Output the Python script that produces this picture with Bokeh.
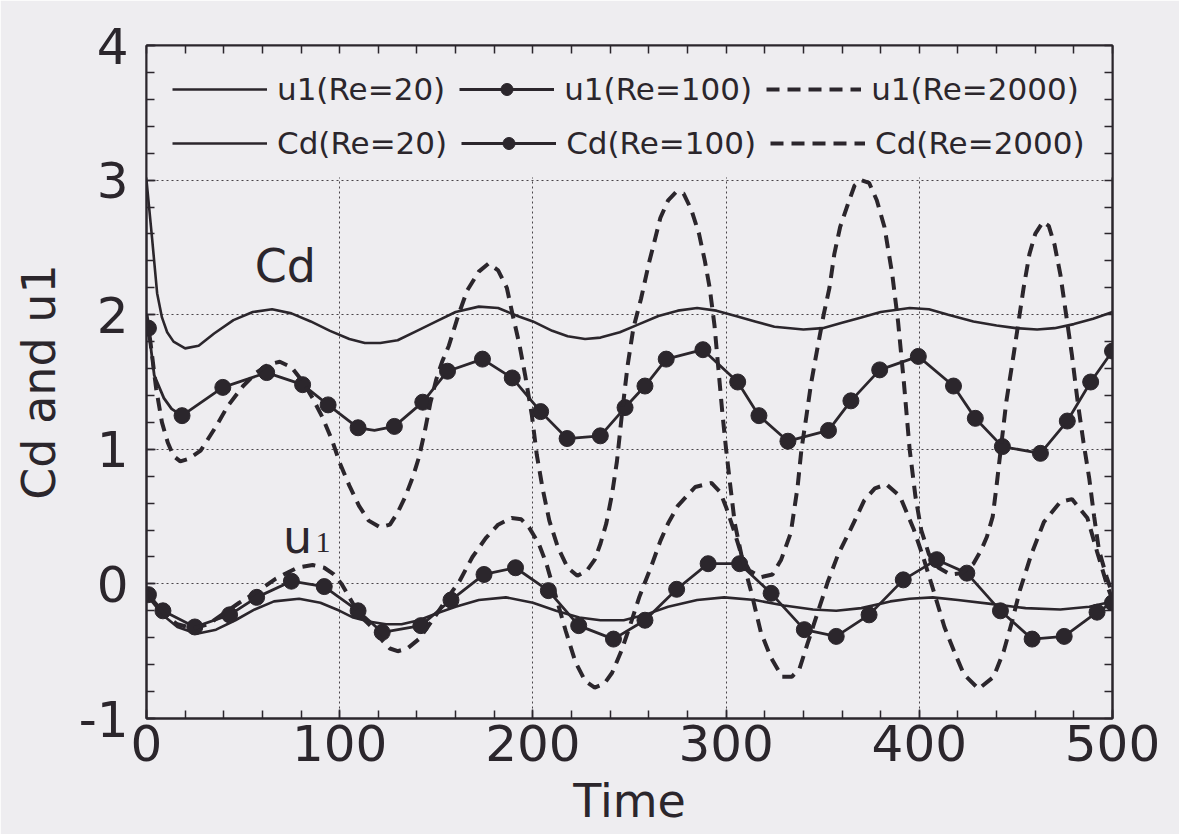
from bokeh.plotting import figure
from bokeh.models import Range1d, FixedTicker, LinearAxis, Legend, LegendItem, BoxAnnotation, Label
from bokeh.embed import file_html
from bokeh.resources import INLINE

# ---------------- data ----------------
x_ticks = [0, 100, 200, 300, 400, 500]
y_ticks = [-1, 0, 1, 2, 3, 4]
y_tick_text = {-1: "-1"}

# Cd, Re=20 (solid)
cd20_t = [0, 3, 5.5, 8, 10.7, 14, 20, 27, 35, 45, 55, 65, 75, 85, 95, 105, 113, 121, 130, 140,
          150, 160, 172, 182, 192, 200, 210, 218, 227, 235, 245, 255, 265, 275, 285, 295, 305, 315,
          325, 340, 350, 360, 370, 380, 395, 405, 415, 428, 440, 450, 461, 470, 480, 490, 500]
cd20_v = [3.0, 2.55, 2.16, 1.98, 1.87, 1.8, 1.75, 1.77, 1.86, 1.96, 2.02, 2.04, 2.01, 1.95, 1.88,
          1.82, 1.79, 1.79, 1.81, 1.88, 1.95, 2.02, 2.06, 2.05, 1.99, 1.95, 1.88, 1.84, 1.82, 1.83,
          1.87, 1.93, 1.99, 2.03, 2.05, 2.03, 1.99, 1.95, 1.91, 1.89, 1.9, 1.94, 1.98, 2.02, 2.05,
          2.04, 2.0, 1.95, 1.92, 1.9, 1.89, 1.9, 1.93, 1.97, 2.02]

# Cd, Re=100 (solid with markers): marker points and extra line points
cd100_mt = [1, 18.4, 39.5, 62.2, 80.8, 94, 109.5, 128.3, 143, 155.8, 173.9, 189.3, 204, 217.7,
            234.9, 247.7, 258, 269, 288, 306, 317, 332, 353, 364.6, 379.5, 399.5, 417.7, 429, 443,
            462.7, 476.6, 488.7, 500]
cd100_mv = [1.9, 1.25, 1.46, 1.57, 1.48, 1.33, 1.16, 1.17, 1.35, 1.58, 1.67, 1.53, 1.28, 1.08,
            1.1, 1.31, 1.47, 1.67, 1.74, 1.5, 1.25, 1.06, 1.14, 1.36, 1.59, 1.69, 1.47, 1.23, 1.02,
            0.97, 1.21, 1.5, 1.73]
cd100_xt = [0, 4, 9, 13, 118]
cd100_xv = [1.95, 1.55, 1.38, 1.3, 1.14]

# Cd, Re=2000 (dashed)
cd2000_t = [0, 2, 5, 8, 11, 14, 17.5, 22, 28, 36, 42, 50, 57, 63, 69, 75, 81, 86, 91, 96, 100, 105,
            110, 115, 121, 126, 130, 134, 138, 141, 144, 147, 150, 153, 156.5, 161.5, 166, 172, 177,
            182, 186.5, 189.5, 193, 196, 199.5, 202, 205, 208.5, 213, 218, 223, 228, 232, 235, 238,
            241, 243.5, 246, 249, 252, 256, 260, 263, 266, 270, 274, 278, 282, 286, 289, 291.5, 294,
            296, 298, 300, 302, 304.5, 308, 312, 318, 324, 328.5, 333.5, 337, 339, 341.5, 344, 347,
            350.5, 353.5, 356, 359, 363, 366.5, 370, 374, 378, 382, 386, 389, 392, 395, 398, 401,
            405, 410, 416, 422, 428, 432, 435, 438, 440, 442, 445, 449, 451.5, 454, 457, 460, 464,
            467, 470, 473, 476, 479, 482, 485, 488, 490.5, 493, 497, 500]
cd2000_v = [2.0, 1.8, 1.45, 1.2, 1.05, 0.95, 0.91, 0.93, 0.99, 1.17, 1.32, 1.47, 1.57, 1.63, 1.65,
            1.61, 1.5, 1.38, 1.24, 1.07, 0.9, 0.73, 0.58, 0.47, 0.42, 0.44, 0.53, 0.65, 0.8, 0.94,
            1.13, 1.35, 1.52, 1.65, 1.77, 2.0, 2.18, 2.32, 2.38, 2.33, 2.2, 2.0, 1.78, 1.55, 1.25,
            0.96, 0.71, 0.47, 0.27, 0.12, 0.06, 0.1, 0.18, 0.3, 0.45, 0.67, 0.91, 1.25, 1.62, 1.9,
            2.12, 2.38, 2.55, 2.72, 2.85, 2.91, 2.9, 2.78, 2.6, 2.4, 2.2, 1.92, 1.6, 1.28, 1.0,
            0.75, 0.45, 0.21, 0.1, 0.05, 0.07, 0.18, 0.38, 0.72, 1.0, 1.24, 1.49, 1.73, 2.0, 2.2,
            2.45, 2.65, 2.82, 2.96, 3.0, 2.98, 2.85, 2.65, 2.3, 1.95, 1.5, 1.0, 0.65, 0.4, 0.22,
            0.12, 0.07, 0.08, 0.15, 0.25, 0.35, 0.5, 0.73, 0.98, 1.35, 1.72, 1.96, 2.2, 2.45, 2.6,
            2.69, 2.66, 2.52, 2.3, 2.0, 1.7, 1.35, 1.05, 0.78, 0.5, 0.25, 0.05, -0.08]

# u1, Re=20 (solid)
u20_t = [0, 5, 10, 16, 26, 36, 46, 56, 66, 79, 90, 100, 107, 115, 124, 132, 141, 150, 160, 172,
         186, 200, 212, 224, 235, 247, 258, 270, 285, 299, 315, 330, 345, 357, 370, 385, 395, 407,
         420, 438, 455, 473, 488, 500]
u20_v = [-0.08, -0.17, -0.25, -0.32, -0.37, -0.34, -0.27, -0.19, -0.13, -0.11, -0.14, -0.2, -0.25,
         -0.28, -0.3, -0.3, -0.27, -0.22, -0.17, -0.12, -0.1, -0.14, -0.2, -0.25, -0.27, -0.27,
         -0.23, -0.17, -0.12, -0.1, -0.12, -0.16, -0.19, -0.2, -0.18, -0.13, -0.11, -0.1, -0.12,
         -0.15, -0.18, -0.19, -0.17, -0.13]

# u1, Re=100 (solid with markers)
u100_mt = [1, 8.5, 25, 43, 57, 75, 92, 109.5, 122, 142, 157.6, 174.7, 191, 208, 223.7, 241.7, 258,
           274.4, 290.7, 307, 323.3, 340.5, 357, 374, 391.7, 409, 424.6, 442, 458.4, 475, 492, 500]
u100_mv = [-0.08, -0.2, -0.32, -0.23, -0.1, 0.02, -0.02, -0.2, -0.36, -0.31, -0.12, 0.07, 0.12,
           -0.05, -0.31, -0.41, -0.27, -0.04, 0.15, 0.15, -0.07, -0.34, -0.39, -0.23, 0.03, 0.18,
           0.08, -0.2, -0.41, -0.39, -0.21, -0.14]
u100_xt = [0]
u100_xv = [-0.06]

# u1, Re=2000 (dashed)
u2000_t = [0, 5, 10, 16, 24, 32, 40, 48, 57, 67, 78, 86, 92, 97, 101, 105, 109, 113, 118, 122, 126,
           130, 135, 141, 148, 155, 162, 168.7, 175.6, 182, 189, 194, 198, 203, 207, 211.6, 217,
           222, 227, 232, 237, 241, 246, 250.5, 255, 261.5, 266, 270, 275, 284, 292.4, 297, 300,
           304, 307, 313, 318, 323.3, 329, 334, 338, 342, 347, 352.5, 358, 364.6, 371.5, 377, 383,
           390, 397, 402, 408, 413, 418, 423, 430.7, 438.5, 443.7, 448, 452, 458, 464.5, 473, 479,
           487, 492, 497, 500]
u2000_v = [-0.05, -0.15, -0.24, -0.3, -0.33, -0.3, -0.22, -0.14, -0.06, 0.04, 0.12, 0.14, 0.12,
           0.07, 0.0, -0.1, -0.2, -0.27, -0.34, -0.42, -0.48, -0.5, -0.48, -0.41, -0.27, -0.12,
           0.02, 0.2, 0.34, 0.44, 0.49, 0.48, 0.42, 0.3, 0.15, -0.08, -0.35, -0.58, -0.72, -0.77,
           -0.74, -0.66, -0.49, -0.3, -0.1, 0.14, 0.32, 0.45, 0.58, 0.72, 0.75, 0.68, 0.57, 0.4,
           0.26, -0.06, -0.36, -0.55, -0.69, -0.69, -0.63, -0.45, -0.23, 0.01, 0.22, 0.41, 0.62,
           0.71, 0.74, 0.65, 0.41, 0.2, -0.08, -0.32, -0.5, -0.67, -0.78, -0.69, -0.5, -0.28,
           -0.05, 0.22, 0.46, 0.61, 0.63, 0.49, 0.24, 0.0, -0.12]

legend_u = ["u1(Re=20)", "u1(Re=100)", "u1(Re=2000)"]
legend_cd = ["Cd(Re=20)", "Cd(Re=100)", "Cd(Re=2000)"]
x_title = "Time"
y_title = "Cd and u1"

# ---------------- style ----------------
BG = "#eeedf0"
INK = "#2b262c"
FONT = "DejaVu Sans"


def merged(t1, v1, t2, v2):
    pts = sorted(zip(list(t1) + list(t2), list(v1) + list(v2)))
    return [a for a, _ in pts], [b for _, b in pts]


p = figure(width=1179, height=834, output_backend="svg", toolbar_location=None,
           x_range=Range1d(0, 500), y_range=Range1d(-1, 4),
           min_border_left=146, min_border_right=67, min_border_top=45, min_border_bottom=116,
           background_fill_color=BG, border_fill_color=BG,
           outline_line_color=INK, outline_line_width=2)

x_minor = [20 * i for i in range(26)]
y_minor = [round(-1 + 0.2 * i, 1) for i in range(26)]

for ax in p.xaxis:
    ax.ticker = FixedTicker(ticks=x_ticks, minor_ticks=x_minor)
for ax in p.yaxis:
    ax.ticker = FixedTicker(ticks=y_ticks, minor_ticks=y_minor)
    ax.major_label_overrides = y_tick_text


def style_ticks(ax):
    ax.axis_line_color = INK
    ax.axis_line_width = 2
    ax.major_tick_in = 9
    ax.major_tick_out = 0
    ax.minor_tick_in = 8
    ax.minor_tick_out = 0
    ax.major_tick_line_color = INK
    ax.minor_tick_line_color = INK
    ax.major_tick_line_width = 1.5
    ax.minor_tick_line_width = 1.5


for ax in list(p.xaxis) + list(p.yaxis):
    style_ticks(ax)
    ax.major_label_text_font = FONT
    ax.major_label_text_font_size = "50px"
    ax.major_label_text_color = INK
    ax.axis_label_text_font = FONT
    ax.axis_label_text_font_style = "normal"
    ax.axis_label_text_color = INK

p.xaxis.axis_label = x_title
p.xaxis.axis_label_text_font_size = "46px"
p.xaxis.major_label_standoff = 6
p.xaxis.axis_label_standoff = 10
p.yaxis.axis_label = y_title
p.yaxis.axis_label_text_font_size = "46px"
p.yaxis.major_label_standoff = 18
p.yaxis.axis_label_standoff = 10

# frame ticks on the top and right edges (tick marks only, no labels)
top = LinearAxis(ticker=FixedTicker(ticks=[], minor_ticks=x_minor))
right = LinearAxis(ticker=FixedTicker(ticks=[], minor_ticks=y_minor))
for ax in (top, right):
    style_ticks(ax)
p.add_layout(top, "above")
p.add_layout(right, "right")

p.xgrid.ticker = FixedTicker(ticks=[100, 200, 300, 400])
p.ygrid.ticker = FixedTicker(ticks=[0, 1, 2, 3])
for g in (p.xgrid, p.ygrid):
    g.grid_line_color = INK
    g.grid_line_width = 1
    g.grid_line_dash = "2 3"
    g.grid_line_alpha = 0.85

# legend band covers the grid above y=3
band = BoxAnnotation(bottom=3.02, top=4, fill_color=BG, fill_alpha=1.0, line_alpha=0,
                     level="underlay")
p.add_layout(band)

SOLID_W = 2.6
LINE100_W = 2.8
DASH = "13 8"
DASH_W = 4
MS = 16

r_u20 = p.line(u20_t, u20_v, line_color=INK, line_width=SOLID_W)
ut, uv = merged(u100_mt, u100_mv, u100_xt, u100_xv)
r_u100 = p.line(ut, uv, line_color=INK, line_width=LINE100_W)
s_u100 = p.scatter(u100_mt, u100_mv, marker="circle", size=MS, fill_color=INK, line_color=INK)
r_u2000 = p.line(u2000_t, u2000_v, line_color=INK, line_width=DASH_W, line_dash=DASH)

r_cd20 = p.line(cd20_t, cd20_v, line_color=INK, line_width=SOLID_W)
ct, cv = merged(cd100_mt, cd100_mv, cd100_xt, cd100_xv)
r_cd100 = p.line(ct, cv, line_color=INK, line_width=LINE100_W)
s_cd100 = p.scatter(cd100_mt, cd100_mv, marker="circle", size=MS, fill_color=INK, line_color=INK)
r_cd2000 = p.line(cd2000_t, cd2000_v, line_color=INK, line_width=DASH_W, line_dash=DASH)


def make_legend(labels, rends, loc):
    items = [LegendItem(label=lab, renderers=rs) for lab, rs in zip(labels, rends)]
    leg = Legend(items=items, orientation="horizontal", location=loc,
                 label_text_font=FONT, label_text_font_size="31px", label_text_color=INK,
                 glyph_width=95, glyph_height=30, label_height=30, label_standoff=10,
                 spacing=14, padding=0, margin=0,
                 border_line_alpha=0, background_fill_alpha=0)
    return leg


leg1 = make_legend(legend_u, [[r_u20], [r_u100, s_u100], [r_u2000]], (26, 611))
leg2 = make_legend(legend_cd, [[r_cd20], [r_cd100, s_cd100], [r_cd2000]], (26, 557))
p.add_layout(leg1)
p.add_layout(leg2)

p.add_layout(Label(x=56, y=2.36, text="Cd", text_font=FONT, text_font_size="46px",
                   text_color=INK, text_baseline="alphabetic"))
p.add_layout(Label(x=70.6, y=0.35, text="u", text_font=FONT, text_font_size="46px",
                   text_color=INK, text_baseline="alphabetic"))
p.add_layout(Label(x=87.5, y=0.31, text="1", text_font="Liberation Serif", text_font_size="30px",
                   text_color=INK, text_baseline="alphabetic"))

open("out.html", "w").write(file_html(p, INLINE))
